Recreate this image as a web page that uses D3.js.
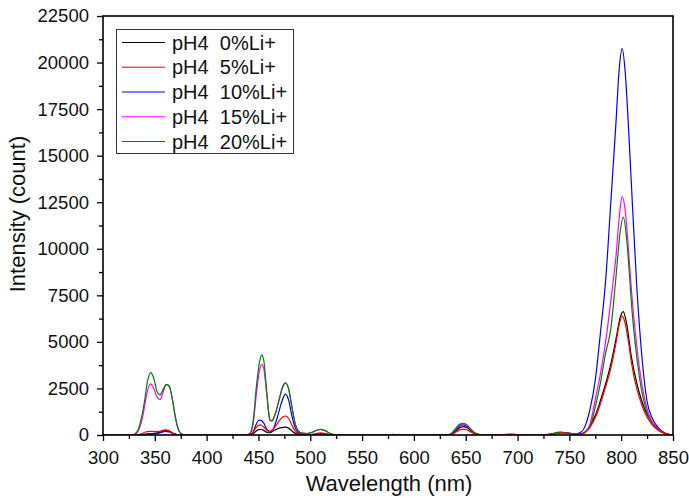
<!DOCTYPE html>
<html>
<head>
<meta charset="utf-8">
<script src="https://cdn.jsdelivr.net/npm/d3@7"></script>
<style>
  html, body { margin: 0; padding: 0; background: #fff; }
  svg { display: block; }
  text { font-family: "Liberation Sans", Arial, sans-serif; fill: #111; }
</style>
</head>
<body>
<svg id="chart" width="689" height="499"></svg>
<script>
// Emission spectra, pH 4 samples doped with increasing Li+ content.
// Each series: [wavelength (nm), intensity (count)].
const li0 = [[300,0],[330,0],[338,20],[343,60],[348,80],[353,110],[357,180],[361,250],[365,170],[369,50],[374,0],
  [440,0],[444,40],[447,180],[450,290],[452,310],[455,250],[458,150],[461,120],[464,200],[468,320],[472,400],[476,420],[479,370],[482,230],[485,100],[489,30],[495,0],[505,40],[510,80],[515,50],[522,0],
  [575,0],[580,30],[586,0],[632,0],[637,60],[641,250],[645,420],[648,450],[651,400],[655,230],[659,80],[664,10],[670,0],
  [688,0],[693,30],[700,20],[715,0],[728,20],[735,80],[742,140],[748,110],[755,60],[760,60],[765,150],[770,500],[775,1050],[780,1850],[785,2750],[790,3800],[795,5150],[799,6300],[802,6620],[805,6050],[810,4150],[815,2800],[820,1800],[825,1100],[830,650],[835,380],[840,180],[845,50],[850,0]];

const li5 = [[300,0],[333,0],[337,60],[341,160],[345,200],[350,180],[355,210],[360,280],[364,220],[368,90],[373,10],[378,0],
  [440,0],[444,80],[447,340],[450,520],[452,540],[455,430],[458,260],[461,200],[464,300],[468,600],[472,900],[476,1020],[479,900],[482,560],[485,250],[488,90],[493,20],[500,20],[505,70],[510,110],[515,70],[521,0],
  [632,0],[637,40],[641,170],[645,290],[648,320],[651,280],[655,160],[659,50],[665,0],
  [725,0],[735,60],[742,110],[748,90],[755,40],[760,40],[765,120],[770,420],[775,920],[780,1680],[785,2580],[790,3580],[795,4950],[798,5900],[801,6380],[804,5950],[807,5000],[810,3850],[815,2500],[820,1600],[825,950],[830,550],[835,300],[840,130],[845,40],[850,0]];

const li10 = [[300,0],[336,0],[340,30],[345,60],[350,70],[355,120],[360,200],[364,160],[368,60],[373,0],
  [440,0],[444,100],[447,460],[450,780],[452,800],[455,650],[458,320],[461,180],[464,300],[468,900],[472,1700],[476,2200],[479,1900],[482,1100],[485,450],[488,150],[493,40],[500,20],[510,50],[520,0],
  [632,0],[636,60],[640,260],[644,480],[647,540],[650,500],[654,320],[658,120],[663,20],[668,0],
  [725,0],[735,50],[742,110],[748,100],[755,70],[760,120],[765,450],[770,1400],[775,2950],[780,5500],[785,8300],[790,12500],[795,16800],[798,19600],[801,20750],[804,19400],[807,16600],[810,13300],[815,8000],[820,4200],[825,1800],[830,900],[835,450],[840,180],[845,40],[850,0]];

const li15 = [[300,0],[328,0],[331,40],[335,350],[338,900],[340,1500],[343,2400],[346,2750],[349,2500],[352,2050],[355,1900],[358,2300],[361,2700],[364,2600],[367,1900],[370,900],[373,250],[376,50],[380,0],
  [438,0],[442,80],[445,650],[448,2200],[451,3450],[453,3800],[455,3600],[458,2150],[461,820],[463,760],[466,1100],[470,1900],[473,2500],[476,2780],[479,2500],[482,1600],[485,700],[488,250],[492,100],[497,80],[502,150],[507,270],[510,290],[514,240],[518,110],[522,30],[526,0],
  [580,0],[585,30],[590,0],[632,0],[636,70],[640,300],[644,520],[647,580],[650,540],[654,340],[658,130],[663,20],[668,0],
  [685,0],[690,50],[696,50],[702,0],[725,0],[735,50],[742,120],[748,100],[755,60],[760,60],[765,150],[770,600],[775,1900],[780,3300],[785,5000],[790,7200],[795,9600],[798,11600],[801,12800],[804,12000],[807,10000],[810,7700],[815,4800],[820,2700],[825,1400],[830,700],[835,350],[840,150],[845,40],[850,0]];

const li20 = [[300,0],[327,0],[330,30],[334,300],[337,900],[340,1800],[343,2900],[346,3350],[349,3050],[352,2350],[355,2150],[358,2450],[361,2720],[364,2620],[367,1900],[370,900],[373,250],[376,50],[380,0],
  [438,0],[442,100],[445,800],[448,2600],[451,3900],[453,4300],[455,4050],[458,2350],[461,820],[463,760],[466,1100],[470,1900],[473,2550],[476,2800],[479,2500],[482,1600],[485,700],[488,250],[492,100],[497,80],[502,150],[507,280],[510,300],[514,250],[518,120],[522,30],[526,0],
  [632,0],[636,80],[640,330],[644,580],[647,630],[650,590],[654,380],[658,150],[663,30],[668,0],
  [725,0],[733,60],[740,150],[746,130],[752,60],[758,50],[763,90],[766,200],[770,450],[775,1500],[780,2800],[785,4400],[790,5700],[795,8500],[799,10900],[802,11700],[805,10700],[808,8600],[810,7000],[815,4200],[820,2300],[825,1200],[830,600],[835,280],[840,120],[845,30],[850,0]];

const seriesNames = ["pH4  0%Li+", "pH4  5%Li+", "pH4  10%Li+", "pH4  15%Li+", "pH4  20%Li+"];
const seriesData = [li0, li5, li10, li15, li20];
const seriesColors = ["#000000", "#ff0000", "#0000ff", "#ff00ff", "#008000"];
const drawOrder = [0, 2, 3, 4, 1];

const xMajor = [300, 350, 400, 450, 500, 550, 600, 650, 700, 750, 800, 850];
const xMinor = [325, 375, 425, 475, 525, 575, 625, 675, 725, 775, 825];
const yMajor = [0, 2500, 5000, 7500, 10000, 12500, 15000, 17500, 20000, 22500];
const yMinor = [1250, 3750, 6250, 8750, 11250, 13750, 16250, 18750, 21250];

const svg = d3.select("#chart");
const plot = { left: 103, right: 673, top: 16, bottom: 435 };

const x = d3.scaleLinear().domain([300, 850]).range([plot.left, plot.right]);
const y = d3.scaleLinear().domain([0, 22500]).range([plot.bottom, plot.top]);

// curves
const line = d3.line()
  .x(d => x(d[0]))
  .y(d => y(d[1]))
  .curve(d3.curveMonotoneX);

svg.append("clipPath").attr("id", "plotClip")
  .append("rect")
  .attr("x", plot.left).attr("y", plot.top)
  .attr("width", plot.right - plot.left).attr("height", plot.bottom - plot.top);

svg.append("g").attr("clip-path", "url(#plotClip)")
  .selectAll("path")
  .data(drawOrder)
  .join("path")
  .attr("d", i => line(seriesData[i]))
  .attr("fill", "none")
  .attr("stroke", i => seriesColors[i])
  .attr("stroke-width", 1.2)
  .attr("stroke-linejoin", "round");

// axes: major ticks with labels, minor ticks without
svg.append("g").attr("transform", `translate(0,${plot.bottom})`)
  .call(d3.axisBottom(x).tickValues(xMajor).tickFormat(d3.format("d")).tickSize(6).tickSizeOuter(0).tickPadding(10));
svg.append("g").attr("transform", `translate(0,${plot.bottom})`)
  .call(d3.axisBottom(x).tickValues(xMinor).tickFormat("").tickSize(4).tickSizeOuter(0));

svg.append("g").attr("transform", `translate(${plot.left},0)`)
  .call(d3.axisLeft(y).tickValues(yMajor).tickFormat(d3.format("d")).tickSize(6).tickSizeOuter(0).tickPadding(8));
svg.append("g").attr("transform", `translate(${plot.left},0)`)
  .call(d3.axisLeft(y).tickValues(yMinor).tickFormat("").tickSize(4).tickSizeOuter(0));

svg.selectAll(".domain").remove();
svg.selectAll(".tick line").attr("stroke", "#000").attr("stroke-width", 1.3);
svg.selectAll(".tick text")
  .style("font-family", "'Liberation Sans', Arial, sans-serif")
  .style("font-size", "18.5px")
  .attr("fill", "#111");

// frame
svg.append("rect")
  .attr("x", plot.left).attr("y", plot.top)
  .attr("width", plot.right - plot.left).attr("height", plot.bottom - plot.top)
  .attr("fill", "none").attr("stroke", "#000").attr("stroke-width", 1.6);

// axis titles
svg.append("text")
  .attr("x", (plot.left + plot.right) / 2 + 1)
  .attr("y", 491)
  .attr("text-anchor", "middle")
  .style("font-size", "22px")
  .text("Wavelength (nm)");

svg.append("text")
  .attr("transform", "translate(25,214) rotate(-90)")
  .attr("text-anchor", "middle")
  .style("font-size", "22px")
  .text("Intensity (count)");

// legend
const legend = svg.append("g");
legend.append("rect")
  .attr("x", 116.5).attr("y", 29.5)
  .attr("width", 177).attr("height", 124)
  .attr("fill", "#fff").attr("stroke", "#333").attr("stroke-width", 1);

const rowY = d3.scalePoint().domain(d3.range(seriesNames.length)).range([42.5, 141.5]);
const rows = legend.selectAll("g.row")
  .data(seriesNames)
  .join("g")
  .attr("class", "row")
  .attr("transform", (d, i) => `translate(0,${rowY(i)})`);
rows.append("line")
  .attr("x1", 122).attr("x2", 165)
  .attr("stroke", (d, i) => seriesColors[i])
  .attr("stroke-width", 1.2);
rows.append("text")
  .attr("x", 172).attr("dy", "0.36em")
  .style("font-size", "20px")
  .style("white-space", "pre")
  .text(d => d);
</script>
</body>
</html>
